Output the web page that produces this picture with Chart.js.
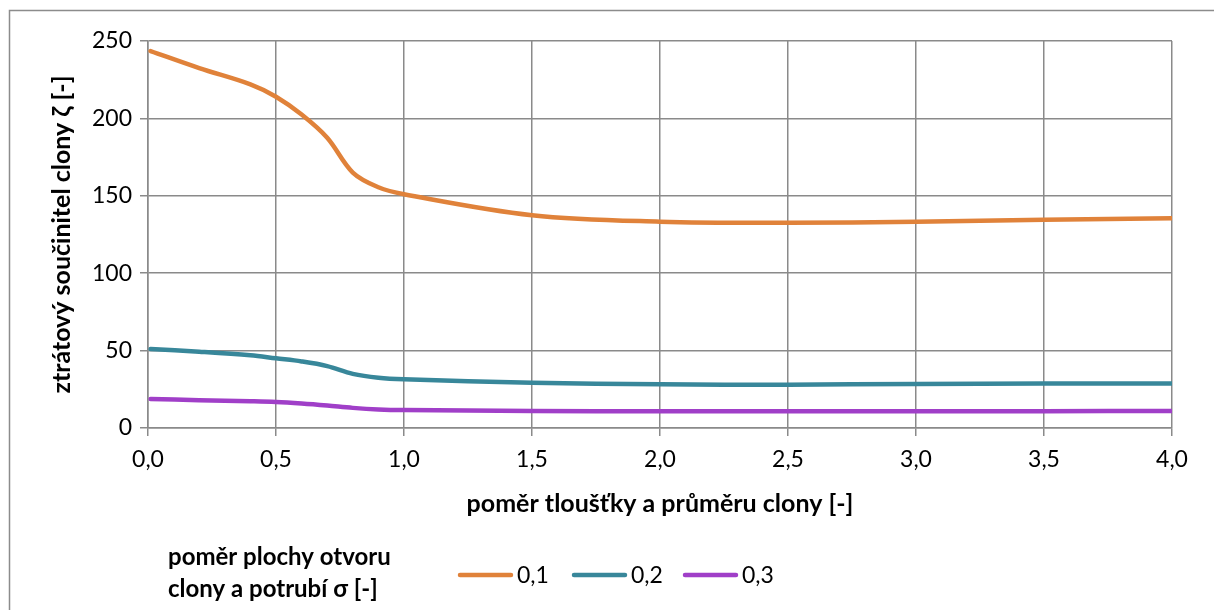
<!DOCTYPE html>
<html>
<head>
<meta charset="utf-8">
<script src="https://cdn.jsdelivr.net/npm/chart.js@4"></script>
<style>
  html, body { margin: 0; padding: 0; background: #fff; }
  #wrap { position: relative; width: 1214px; height: 610px; }
</style>
</head>
<body>
<div id="wrap"><canvas id="chart1" width="1214" height="610"></canvas></div>
<script>
// x values (ratio thickness / diameter)
var xs = [0.01, 0.2, 0.4, 0.5, 0.6, 0.7, 0.8, 0.9, 1.0, 1.5, 2.0, 2.5, 3.0, 3.5, 4.0];
// loss coefficient for each area ratio
var zeta01 = [243.5, 232.5, 222, 214, 202.5, 187.5, 165, 155.5, 151, 137.5, 133.3, 132.6, 133.3, 134.5, 135.5];
var zeta02 = [51, 49.3, 47, 45, 43, 40, 35, 32.5, 31.5, 29.3, 28.2, 28, 28.5, 28.7, 28.8];
var zeta03 = [18.7, 18, 17.3, 16.8, 15.8, 14.5, 13, 12, 11.6, 11, 10.8, 10.8, 10.8, 10.9, 11];
var seriesNames = ['0,1', '0,2', '0,3'];
var seriesColors = ['#e0823a', '#38879a', '#a03fc8'];

var fontFam = 'Lato, "Open Sans", sans-serif';
var gridCol = '#8a8a8a';

function pts(ys) {
    var out = [];
    for (var i = 0; i < xs.length; i++) out.push({x: xs[i], y: ys[i]});
    return out;
}

function makeSet(i, ys) {
    return {
        label: seriesNames[i],
        data: pts(ys),
        borderColor: seriesColors[i],
        backgroundColor: seriesColors[i],
        borderWidth: 4.5,
        pointRadius: 0,
        tension: 0.35,
        borderCapStyle: 'round'
    };
}

//outer frame + legend drawn by hand
var framePlugin = {
    id: 'frame',
    beforeDraw: function(chart) {
        var c = chart.ctx;
        c.save();
        c.strokeStyle = '#8c8c8c';
        c.lineWidth = 1.5;
        c.strokeRect(9.5, 10.5, 1400, 800);
        c.restore();
    },
    afterDraw: function(chart) {
        var c = chart.ctx;
        c.save();
        c.fillStyle = '#000';
        c.textBaseline = 'alphabetic';
        c.font = 'bold 24px ' + fontFam;
        c.fillText('poměr plochy otvoru', 168, 565);
        c.fillText('clony a potrubí σ [-]', 168, 597);
        var lx = [458, 572, 683];
        c.font = '23px ' + fontFam;
        c.lineCap = 'round';
        chart.data.datasets.forEach(function(ds, i) {
            c.strokeStyle = ds.borderColor;
            c.lineWidth = 4.5;
            c.beginPath();
            c.moveTo(lx[i] + 2, 575);
            c.lineTo(lx[i] + 53, 575);
            c.stroke();
            c.textBaseline = 'middle';
            c.fillText(ds.label, lx[i] + 59, 576);
        });
        c.restore();
    }
};

const config = {
    type: 'line',
    data: {
        datasets: [makeSet(0, zeta01), makeSet(1, zeta02), makeSet(2, zeta03)]
    },
    options: {
        responsive: false,
        animation: false,
        layout: { padding: { top: 41, left: 47, right: 42, bottom: 90 } },
        scales: {
            x: {
                type: 'linear',
                min: 0, max: 4,
                afterFit: function(s) { s.height = 92; },
                grid: { color: gridCol, lineWidth: 1.5, tickLength: 8, tickColor: gridCol },
                border: { color: gridCol, width: 1.5 },
                ticks: {
                    stepSize: 0.5,
                    padding: 10,
                    color: '#000',
                    font: { family: fontFam, size: 23 },
                    callback: function(v) { return v.toFixed(1).replace('.', ','); }
                },
                title: {
                    display: true,
                    text: 'poměr tloušťky a průměru clony [-]',
                    color: '#000',
                    font: { family: fontFam, size: 25, weight: 'bold' },
                    padding: { top: 0, bottom: 1 }
                }
            },
            y: {
                min: 0, max: 250,
                afterFit: function(s) { s.width = 101; },
                grid: { color: gridCol, lineWidth: 1.5, tickLength: 8, tickColor: gridCol },
                border: { color: gridCol, width: 1.5 },
                ticks: {
                    stepSize: 50,
                    padding: 8,
                    color: '#000',
                    font: { family: fontFam, size: 23 }
                },
                title: {
                    display: true,
                    text: 'ztrátový součinitel clony ζ [-]',
                    color: '#000',
                    font: { family: fontFam, size: 25, weight: 'bold' },
                    padding: { top: 0, bottom: 0 }
                }
            }
        },
        plugins: {
            legend: { display: false },
            tooltip: { enabled: false }
        }
    },
    plugins: [framePlugin]
};

const chart1 = new Chart(document.getElementById('chart1'), config);
</script>
</body>
</html>
